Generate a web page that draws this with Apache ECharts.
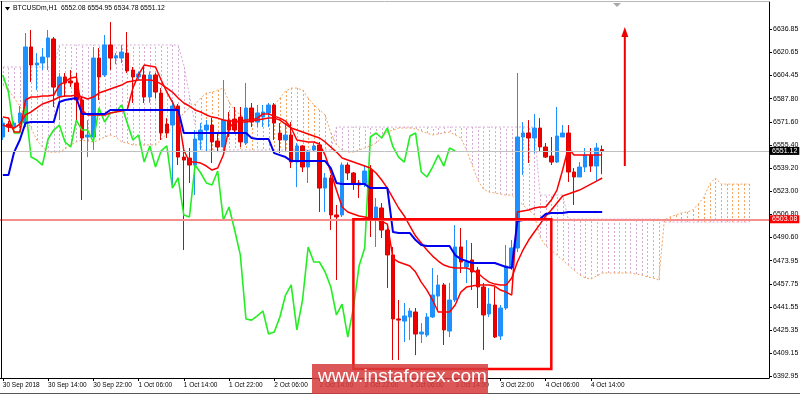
<!DOCTYPE html>
<html><head><meta charset="utf-8">
<script src="https://cdn.jsdelivr.net/npm/echarts@6/dist/echarts.min.js"></script>
<style>html,body{margin:0;padding:0;background:#fff;overflow:hidden}#c{width:800px;height:395px}</style>
</head><body><div id="c"></div>
<script>
const symbolName = 'BTCUSDm,H1';
const titleOHLC = ['6552.08', '6554.95', '6534.78', '6551.12'];
const xTickLabels = ['30 Sep 2018', '30 Sep 14:00', '30 Sep 22:00', '1 Oct 06:00', '1 Oct 14:00', '1 Oct 22:00', '2 Oct 06:00', '2 Oct 14:00', '2 Oct 22:00', '3 Oct 06:00', '3 Oct 14:00', '3 Oct 22:00', '4 Oct 06:00', '4 Oct 14:00'];
const yTickValues = [6392.95, 6409.15, 6425.35, 6441.55, 6457.75, 6473.95, 6490.60, 6506.80, 6523.00, 6539.20, 6555.40, 6571.60, 6587.80, 6604.45, 6620.65, 6636.85];

// [open, close, low, high]
const candles = [
[6560.9,6570.7,6558.8,6574.2],[6570.0,6567.9,6564.4,6572.1],[6567.9,6570.7,6565.8,6572.1],[6570.7,6577.8,6567.2,6582.7],
[6570.7,6624.2,6567.9,6634.0],[6624.2,6611.5,6599.6,6636.1],[6611.5,6612.9,6593.9,6619.9],[6612.9,6617.1,6608.0,6623.5],
[6617.1,6630.5,6608.0,6636.1],[6629.8,6596.0,6582.0,6631.2],[6589.7,6603.1,6572.8,6605.9],[6603.1,6598.9,6589.0,6605.9],
[6600.3,6598.9,6596.0,6608.0],[6598.9,6586.9,6572.8,6605.9],[6586.9,6560.2,6516.6,6589.0],[6560.9,6562.3,6546.8,6572.8],
[6560.9,6616.4,6551.8,6624.2],[6616.4,6603.1,6586.9,6623.5],[6604.5,6625.6,6603.1,6632.6],[6625.6,6616.4,6608.0,6641.7],
[6616.4,6618.0,6612.0,6620.0],[6616.4,6620.6,6612.9,6625.6],[6619.9,6607.3,6605.9,6634.7],[6608.0,6603.1,6584.8,6610.1],
[6603.1,6605.2,6601.0,6607.0],[6604.5,6589.0,6584.8,6610.1],[6589.0,6604.5,6585.0,6607.0],[6604.5,6592.5,6588.0,6606.0],
[6591.8,6563.7,6558.8,6595.3],[6570.0,6563.7,6560.2,6574.2],[6569.3,6582.7,6527.2,6586.9],[6582.7,6546.8,6541.2,6584.1],
[6546.8,6544.7,6481.5,6555.3],[6546.1,6541.2,6528.6,6553.2],[6541.2,6559.5,6520.1,6565.8],[6558.8,6565.8,6551.8,6570.7],
[6565.8,6569.3,6550.3,6572.8],[6569.3,6557.4,6542.6,6574.3],[6558.1,6553.9,6550.3,6563.7],[6553.9,6572.8,6550.3,6601.0],
[6572.8,6565.8,6560.9,6578.5],[6573.5,6565.8,6563.0,6582.0],[6574.9,6557.4,6553.9,6582.0],[6556.7,6581.3,6555.3,6598.9],
[6581.3,6571.4,6567.9,6584.8],[6571.4,6577.8,6567.9,6583.4],[6574.9,6578.5,6567.9,6583.4],[6577.8,6583.4,6567.9,6584.8],
[6583.4,6570.7,6558.8,6584.8],[6563.7,6558.8,6549.6,6570.7],[6558.8,6562.3,6550.3,6570.7],[6562.3,6543.3,6539.1,6571.4],
[6543.3,6554.6,6525.7,6556.7],[6554.6,6539.8,6536.3,6555.3],[6539.8,6551.1,6528.6,6551.8],[6551.8,6554.6,6550.3,6556.7],
[6555.3,6525.0,6508.2,6557.4],[6525.0,6532.1,6508.2,6535.6],[6532.1,6506.1,6495.5,6534.2],[6506.1,6504.7,6460.4,6513.1],
[6506.1,6541.2,6504.7,6543.0],[6541.2,6535.6,6530.7,6543.0],[6535.6,6528.6,6523.7,6536.3],[6528.6,6527.2,6518.0,6530.7],
[6528.2,6537.0,6525.7,6541.2],[6537.7,6502.6,6490.6,6541.2],[6502.6,6511.7,6483.6,6518.0],[6511.0,6495.5,6489.9,6514.5],
[6495.5,6478.0,6454.8,6497.6],[6478.0,6433.0,6404.1,6483.6],[6433.0,6432.2,6404.1,6446.3],[6431.5,6435.1,6416.8,6444.2],
[6434.4,6438.6,6418.2,6440.7],[6437.9,6422.4,6407.6,6440.7],[6422.4,6423.8,6416.1,6430.1],[6421.7,6434.4,6420.3,6437.2],
[6434.4,6449.8,6433.7,6468.8],[6449.1,6456.9,6439.3,6463.9],[6456.9,6425.3,6414.7,6458.3],[6424.5,6446.3,6420.3,6458.3],
[6446.3,6483.6,6444.9,6499.0],[6483.6,6473.0,6465.3,6496.9],[6469.5,6473.0,6458.3,6488.5],[6474.5,6466.0,6453.4,6486.4],
[6467.4,6455.5,6440.7,6469.5],[6455.5,6435.8,6411.2,6458.3],[6436.5,6443.5,6434.4,6454.7],[6442.8,6420.3,6419.6,6455.5],
[6421.0,6440.7,6418.2,6442.8],[6440.7,6470.2,6439.3,6485.0],[6469.5,6482.9,6467.4,6488.5],[6482.9,6560.9,6480.0,6605.9],
[6560.9,6563.7,6534.2,6571.4],[6563.7,6560.2,6542.6,6572.8],[6560.2,6567.2,6549.6,6577.1],[6567.2,6553.9,6550.3,6574.2],
[6553.9,6546.8,6546.1,6556.7],[6547.5,6543.3,6541.2,6560.9],[6543.3,6561.6,6542.6,6582.0],[6560.9,6563.7,6560.9,6569.3],
[6563.7,6536.3,6529.3,6569.3],[6536.3,6532.8,6513.1,6539.1],[6532.8,6539.8,6532.8,6543.3],[6539.8,6548.2,6536.3,6553.2],
[6548.2,6540.5,6536.3,6553.2],[6540.5,6553.2,6529.3,6556.7],[6552.08,6551.12,6534.78,6554.95]
];

const tenkan = [6574.9,6574.2,6564.4,6564.4,6586.9,6589.0,6589.0,6589.7,6589.7,6590.4,
 6597.4,6599.6,6602.4,6603.1,6579.9,6576.4,6576.4,6576.4,6576.4,6577.8,
 6578.5,6579.2,6579.9,6595.3,6604.5,6611.5,6610.8,6610.1,6601.0,6592.5,
 6585.5,6576.4,6551.8,6543.3,6543.3,6542.6,6540.5,6537.7,6539.1,6548.2,
 6567.2,6571.4,6572.1,6572.8,6572.8,6574.2,6577.1,6577.1,6575.6,6574.2,
 6572.1,6567.2,6558.8,6558.1,6557.4,6557.4,6556.0,6548.2,6536.3,6523.6,
 6511.7,6508.2,6506.8,6505.4,6504.7,6503.9,6502.6,6501.8,6499.7,6475.8,
 6473.0,6471.6,6470.2,6466.0,6458.9,6453.3,6446.3,6437.9,6437.9,6437.9,
 6442.8,6451.9,6455.4,6456.1,6456.8,6456.8,6456.8,6456.1,6453.3,6451.9,
 6449.8,6508.2,6508.9,6509.6,6511.0,6511.7,6511.7,6516.6,6523.6,6537.7,
 6553.2,6548.2,6548.2,6548.2,6548.2,6548.2,6548.2];

const kijun = [6534.2,6534.2,6550.3,6558.8,6570.7,6571.4,6571.4,6571.4,6571.4,6571.4,
 6585.5,6586.9,6587.6,6588.3,6577.1,6577.1,6577.1,6577.1,6577.1,6579.9,
 6579.9,6579.9,6579.9,6579.9,6579.9,6579.9,6579.9,6579.9,6579.9,6579.9,
 6579.9,6579.9,6563.7,6563.7,6563.7,6563.7,6563.7,6563.7,6563.7,6563.7,
 6563.7,6563.7,6563.7,6563.7,6560.2,6559.5,6559.5,6559.5,6549.6,6548.2,
 6546.8,6544.0,6544.0,6544.0,6544.0,6544.0,6544.0,6544.0,6539.1,6528.6,
 6527.8,6527.8,6527.8,6527.8,6527.8,6525.0,6525.0,6525.0,6525.0,6494.1,
 6493.4,6493.4,6493.4,6488.5,6485.0,6484.3,6484.3,6484.3,6484.3,6484.3,
 6477.9,6475.1,6473.7,6472.3,6472.3,6472.3,6472.3,6472.3,6470.9,6469.5,
 6468.8,6501.8,6502.6,6502.6,6502.6,6503.2,6506.8,6507.5,6507.5,6507.5,
 6508.2,6508.2,6508.2,6508.2,6508.2,6508.2,6508.2];

const movingAvg = [6569.3,6567.9,6567.2,6570.0,6576.4,6578.5,6581.3,6584.1,6585.5,6586.9,
 6589.0,6589.7,6589.7,6590.4,6589.0,6587.6,6589.0,6591.8,6593.2,6594.6,
 6596.0,6597.4,6599.6,6600.3,6601.0,6601.0,6601.0,6600.3,6598.1,6595.3,
 6592.5,6588.3,6584.8,6582.7,6579.9,6578.5,6576.4,6574.9,6574.2,6572.8,
 6572.1,6572.1,6571.4,6571.4,6572.1,6572.8,6573.5,6574.2,6574.2,6572.8,
 6570.0,6567.2,6565.8,6564.4,6563.0,6561.6,6560.2,6557.4,6553.9,6550.3,
 6546.1,6544.7,6543.3,6541.9,6540.5,6539.1,6535.6,6530.7,6525.0,6518.0,
 6511.0,6505.4,6498.3,6491.3,6486.4,6481.5,6477.2,6473.7,6470.9,6469.5,
 6468.8,6468.8,6468.8,6467.4,6465.3,6461.8,6458.9,6457.5,6456.8,6456.8,
 6461.8,6473.0,6481.5,6488.5,6494.1,6499.7,6505.4,6509.6,6514.5,6519.4,
 6520.8,6522.2,6523.6,6525.7,6527.8,6529.9,6532.1];

const chikou = [6604.5,6592.5,6563.7,6563.7,6582.7,6546.8,6544.7,6541.2,6559.5,6565.8,
 6569.3,6557.4,6553.9,6572.8,6565.8,6565.8,6557.4,6581.3,6571.4,6577.8,
 6578.5,6583.4,6570.7,6558.8,6562.3,6543.3,6554.6,6539.8,6551.1,6554.6,
 6525.0,6532.1,6506.1,6504.7,6541.2,6535.6,6528.6,6527.2,6537.0,6502.6,
 6511.7,6495.5,6478.0,6433.0,6432.2,6435.1,6438.6,6422.4,6423.8,6434.4,
 6449.8,6456.9,6425.3,6446.3,6483.6,6473.0,6473.0,6466.0,6455.5,6435.8,
 6443.5,6420.3,6440.7,6470.2,6482.9,6560.9,6563.7,6560.2,6567.2,6553.9,
 6546.8,6543.3,6561.6,6563.7,6536.3,6532.8,6539.8,6548.2,6540.5,6553.2,
 6551.1];

const senkouA = [6597.4,6593.9,6588.3,6582.7,6574.2,6567.2,6558.8,6553.9,6550.3,6550.3,
 6550.3,6552.5,6555.3,6557.4,6558.8,6558.1,6557.4,6558.8,6560.9,6562.3,
 6560.9,6557.4,6556.7,6555.3,6555.3,6555.3,6555.3,6555.3,6558.8,6563.7,
 6567.9,6572.8,6577.8,6581.3,6584.1,6588.3,6591.8,6592.5,6593.9,6595.3,
 6585.5,6579.9,6576.4,6574.2,6572.8,6574.2,6576.4,6578.5,6583.4,6588.3,
 6593.2,6595.3,6595.3,6593.9,6588.3,6583.4,6579.9,6576.4,6563.7,6555.3,
 6551.8,6550.3,6550.3,6551.8,6553.2,6554.6,6556.7,6560.2,6564.4,6565.8,
 6567.2,6567.2,6567.2,6566.5,6565.1,6563.7,6562.3,6563.0,6563.7,6564.4,
 6562.3,6560.2,6551.8,6541.2,6530.7,6524.3,6522.2,6521.5,6520.8,6520.1,
 6520.1,6516.6,6513.1,6509.6,6506.1,6490.6,6484.3,6481.5,6477.9,6474.4,
 6470.9,6467.4,6463.9,6461.8,6461.1,6463.2,6465.3,6465.3,6465.3,6465.3,
 6465.3,6465.3,6464.6,6463.9,6462.5,6461.8,6460.4,6502.6,6504.7,6506.1,
 6507.5,6508.2,6509.6,6513.8,6518.7,6527.8,6532.1,6527.8,6527.8,6527.8,
 6527.8,6527.8,6527.8];

const senkouB = [6610.1,6610.1,6610.1,6610.1,6610.1,6610.1,6610.1,6610.1,6610.1,6610.1,
 6625.6,6625.6,6625.6,6625.6,6625.6,6625.6,6625.6,6625.6,6625.6,6625.6,
 6625.6,6625.6,6625.6,6625.6,6625.6,6625.6,6625.6,6625.6,6625.6,6625.6,
 6625.6,6625.6,6611.5,6590.4,6569.3,6551.8,6551.8,6551.8,6551.8,6551.8,
 6551.8,6551.8,6551.8,6551.8,6551.8,6551.8,6551.8,6551.8,6551.8,6551.8,
 6551.8,6551.8,6551.8,6551.8,6551.8,6551.8,6551.8,6551.8,6551.8,6567.9,
 6567.9,6567.9,6567.9,6567.9,6567.9,6567.9,6567.9,6567.9,6567.9,6567.9,
 6567.9,6567.9,6567.9,6567.9,6567.9,6567.9,6567.9,6567.9,6567.9,6567.9,
 6567.9,6567.9,6567.9,6567.9,6567.9,6567.9,6567.9,6567.9,6567.9,6567.9,
 6567.9,6567.9,6567.9,6567.9,6567.9,6520.1,6520.1,6520.1,6520.1,6520.1,
 6503.2,6503.2,6503.2,6503.2,6503.2,6503.2,6503.2,6503.2,6503.2,6503.2,
 6503.2,6503.2,6503.2,6503.2,6503.2,6503.2,6503.2,6501.1,6501.1,6501.1,
 6501.1,6501.1,6501.1,6501.1,6501.1,6501.1,6501.1,6501.1,6501.1,6501.1,
 6501.1,6501.1,6501.1];

const bidPrice = 6551.12;
const levelPrice = 6503.08;
// annotations in chart coordinates: [start bar, end bar, top price, bottom price]
const zoneBox = [61.5, 96.9, 6503.08, 6397.8];
// [bar, base price, tip price]
const upArrow = [110, 6540.5, 6638.2];

const barCount = 136;
const categories = [];
for (let i = 0; i < barCount; i++) {
  const d = new Date(Date.UTC(2018, 8, 30, 6 + i));
  categories.push(d.toISOString().slice(0, 16).replace('T', ' '));
}

const FONT = '"Liberation Sans", Arial, sans-serif';
const chart = echarts.init(document.getElementById('c'));
const isTick = (i) => i % 8 === 0 && i / 8 < xTickLabels.length;

chart.setOption({
  animation: false,
  backgroundColor: '#ffffff',
  grid: { left: 0, right: 31, top: 2, bottom: 17, containLabel: false, outerBoundsMode: 'none' },
  xAxis: {
    type: 'category', data: categories, boundaryGap: true,
    axisLine: { lineStyle: { color: '#000', width: 1 } },
    axisTick: { show: true, alignWithLabel: true, interval: isTick, length: 3, lineStyle: { color: '#000' } },
    axisLabel: { interval: isTick, formatter: (v, i) => xTickLabels[i / 8] || '', align: 'left', color: '#000', fontSize: 6.5, margin: 3.5, fontFamily: FONT },
    splitLine: { show: false }
  },
  yAxis: {
    type: 'value', position: 'right', min: 6391.5, max: 6655.8,
    splitLine: { show: false },
    axisLine: { show: true, lineStyle: { color: '#000', width: 1 } },
    axisTick: { show: true, length: 3, lineStyle: { color: '#000' }, customValues: yTickValues },
    axisLabel: { customValues: yTickValues, formatter: (v) => v.toFixed(2), color: '#000', fontSize: 7, margin: 4, fontFamily: FONT }
  },
  series: [
    {
      type: 'custom', name: 'cloud', z: 1, silent: true,
      data: senkouA.map((a, i) => [i, a, senkouB[i]]),
      encode: { x: 0, y: [1, 2] },
      renderItem: (params, api) => {
        const i = api.value(0), a = api.value(1), b = api.value(2);
        const pa = api.coord([i, a]), pb = api.coord([i, b]);
        const x = Math.round(pa[0]) + 0.5;
        return { type: 'line', shape: { x1: x, y1: pa[1], x2: x, y2: pb[1] },
          style: { stroke: a >= b ? '#f4a460' : '#d6abd6', lineWidth: 1, lineDash: [2, 2] } };
      }
    },
    { type: 'line', name: 'Senkou A', data: senkouA, z: 1, showSymbol: false, silent: true,
      lineStyle: { color: '#f4a460', width: 1, type: [2, 2] } },
    { type: 'line', name: 'Senkou B', data: senkouB, z: 1, showSymbol: false, silent: true,
      lineStyle: { color: '#d6abd6', width: 1, type: [2, 2] } },
    {
      type: 'candlestick', name: symbolName, data: candles, z: 2, barWidth: 4,
      itemStyle: { color: '#1e90ff', color0: '#ee0000', borderColor: '#1e90ff', borderColor0: '#e00000', borderWidth: 1 },
      markLine: {
        symbol: 'none', silent: true, animation: false,
        data: [
          { yAxis: bidPrice, lineStyle: { color: '#c0c0c0', width: 1, type: 'solid' },
            label: { show: true, position: 'end', distance: 1, formatter: (p) => p.value.toFixed(2), color: '#fff', backgroundColor: '#000', padding: [1, 2, 0, 2], fontSize: 7, fontFamily: FONT } },
          { yAxis: levelPrice, lineStyle: { color: '#f78e8e', width: 2, type: 'solid' },
            label: { show: true, position: 'end', distance: 1, formatter: (p) => p.value.toFixed(2), color: '#fff', backgroundColor: '#ff0000', padding: [1, 2, 0, 2], fontSize: 7, fontFamily: FONT } }
        ]
      }
    },
    { type: 'line', name: 'Chikou', data: chikou, z: 3, showSymbol: false, silent: true, lineStyle: { color: '#22ee22', width: 1.6 } },
    { type: 'line', name: 'MA', data: movingAvg, z: 3, showSymbol: false, silent: true, lineStyle: { color: '#ff0000', width: 1.5 } },
    { type: 'line', name: 'Tenkan', data: tenkan, z: 3, showSymbol: false, silent: true, lineStyle: { color: '#ff0000', width: 1.5 } },
    { type: 'line', name: 'Kijun', data: kijun, z: 3, showSymbol: false, silent: true, lineStyle: { color: '#0000ee', width: 2 } },
    {
      type: 'custom', name: 'zone', z: 5, silent: true, data: [zoneBox], encode: { x: [0, 1], y: [2, 3] },
      renderItem: (params, api) => {
        const p1 = api.coord([api.value(0), api.value(2)]);
        const p2 = api.coord([api.value(1), api.value(3)]);
        return { type: 'rect', shape: { x: p1[0], y: p1[1], width: p2[0] - p1[0], height: p2[1] - p1[1] },
          style: { fill: 'none', stroke: '#ff0000', lineWidth: 2.5 } };
      }
    },
    {
      type: 'custom', name: 'arrow', z: 5, silent: true, data: [upArrow], encode: { x: 0, y: [1, 2] },
      renderItem: (params, api) => {
        const base = api.coord([api.value(0), api.value(1)]);
        const tip = api.coord([api.value(0), api.value(2)]);
        return { type: 'group', children: [
          { type: 'line', shape: { x1: base[0], y1: base[1], x2: tip[0], y2: tip[1] + 8 }, style: { stroke: '#ee0000', lineWidth: 2 } },
          { type: 'polygon', shape: { points: [[tip[0], tip[1]], [tip[0] - 3.5, tip[1] + 10], [tip[0] + 3.5, tip[1] + 10]] }, style: { fill: '#ee0000' } }
        ] };
      }
    }
  ],
  graphic: [
    { type: 'line', shape: { x1: 0, y1: 1.5, x2: 769, y2: 1.5 }, style: { stroke: '#b8b8b8', lineWidth: 1 }, z: 10 },
    { type: 'line', shape: { x1: 1.5, y1: 1, x2: 1.5, y2: 378 }, style: { stroke: '#000', lineWidth: 1 }, z: 10 },
    { type: 'line', shape: { x1: 0, y1: 393.5, x2: 800, y2: 393.5 }, style: { stroke: '#555', lineWidth: 1 }, z: 10 },
    { type: 'polygon', shape: { points: [[5, 7], [10, 7], [7.5, 10.5]] }, style: { fill: '#000' }, z: 10 },
    { type: 'text', left: 13, top: 5, z: 10, style: { text: symbolName + '  ' + titleOHLC.join(' '), fontSize: 6.8, fill: '#000', fontFamily: FONT } },
    { type: 'polygon', shape: { points: [[613, 3], [621, 3], [617, 7]] }, style: { fill: '#a8a8a8' }, z: 10 },
    { type: 'rect', shape: { x: 312, y: 364, width: 176, height: 30 }, style: { fill: 'rgba(214,60,60,0.86)' }, z: 20 },
    { type: 'text', left: 318, top: 367, z: 21, style: { text: 'www.instaforex.com', fontSize: 19, fill: '#fff', fontFamily: FONT } }
  ]
});
</script></body></html>
